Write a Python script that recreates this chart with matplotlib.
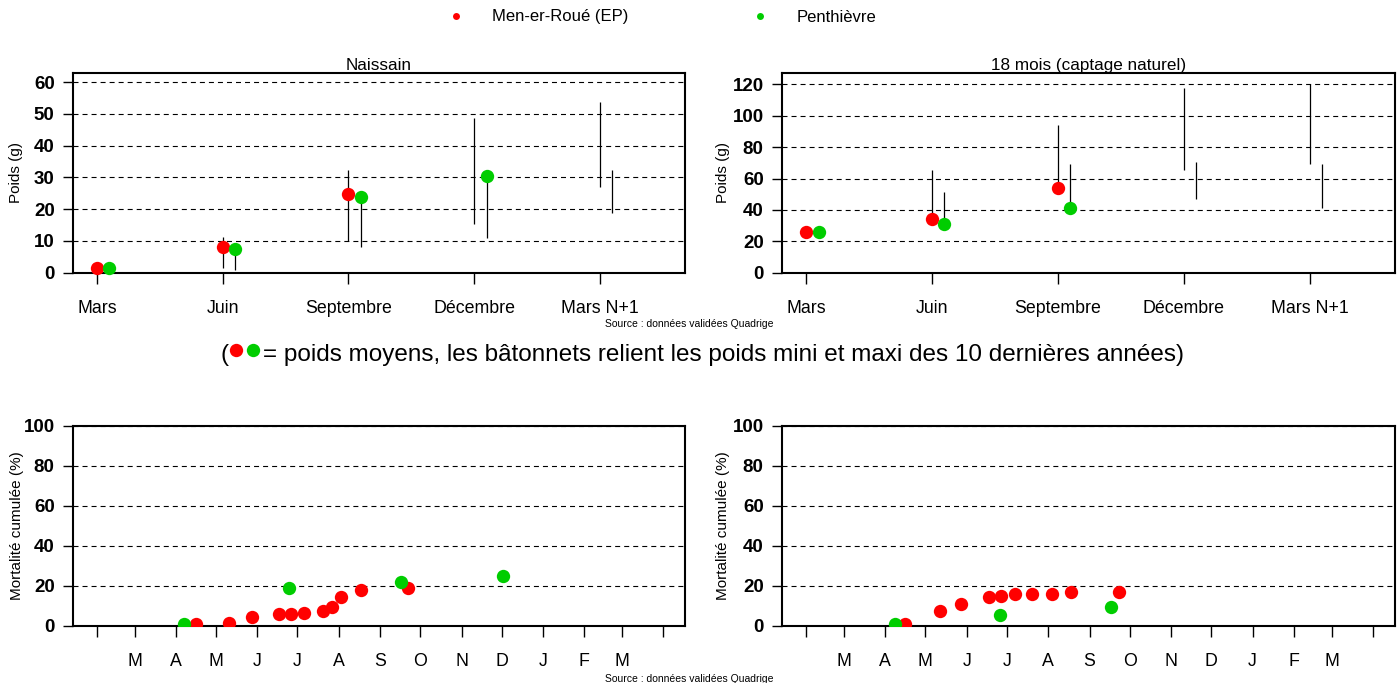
import numpy as np
import matplotlib
matplotlib.use("Agg")
import matplotlib.pyplot as plt
from matplotlib.lines import Line2D

plt.rcParams['font.family'] = ['Liberation Sans', 'DejaVu Sans']
plt.rcParams['lines.scale_dashes'] = False

# ---------------- data ----------------
categories = ["Mars", "Juin", "Septembre", "Décembre", "Mars N+1"]
nan = np.nan

# Naissain - weights (g)
nais_mer_mean = [1.5, 8.2, 24.8, nan, nan]
nais_mer_min = [0.8, 1.6, 10.0, 15.2, 26.9]
nais_mer_max = [2.2, 11.3, 32.4, 48.8, 53.9]
nais_pen_mean = [1.4, 7.6, 23.8, 30.4, nan]
nais_pen_min = [0.9, 0.8, 8.2, 11.0, 18.7]
nais_pen_max = [2.0, 8.8, 25.0, 31.0, 32.2]

# 18 mois - weights (g)
m18_mer_mean = [25.7, 34.0, 54.2, nan, nan]
m18_mer_min = [24.5, 31.0, 51.0, 65.4, 69.0]
m18_mer_max = [27.0, 65.4, 94.1, 117.9, 120.0]
m18_pen_mean = [25.7, 31.0, 41.2, nan, nan]
m18_pen_min = [24.5, 28.5, 39.0, 46.7, 41.0]
m18_pen_max = [27.0, 51.2, 69.0, 70.5, 69.0]

# cumulative mortality (%), x = day of year
month_start_days = [32, 60, 91, 121, 152, 182, 213, 244, 274, 305, 335, 366, 397, 425, 456]
month_labels = ["", "M", "A", "M", "J", "J", "A", "S", "O", "N", "D", "J", "F", "M", ""]

mort_nais_mer_day = [106, 131, 148, 168, 177, 187, 201, 208, 215, 230, 265]
mort_nais_mer_val = [0.7, 1.2, 4.5, 5.7, 5.7, 6.3, 7.5, 9.3, 14.3, 18.0, 18.7]
mort_nais_pen_day = [97, 176, 260, 336]
mort_nais_pen_val = [0.7, 18.7, 21.7, 25.0]

mort_m18_mer_day = [106, 132, 148, 169, 178, 188, 201, 216, 230, 266]
mort_m18_mer_val = [0.7, 7.5, 10.8, 14.5, 14.8, 16.0, 16.0, 16.0, 16.8, 16.7]
mort_m18_pen_day = [98, 177, 260]
mort_m18_pen_val = [0.7, 5.2, 9.2]

series_names = ["Men-er-Roué (EP)", "Penthièvre"]

# ---------------- style ----------------
RED = '#FF0000'
GREEN = '#00CD00'
W, H = 1398, 683
MS = 9.6
DASH = (3.6, 2.9)

fig = plt.figure(figsize=(W / 100, H / 100), dpi=100)


def box(l, t, r, b):
    return [l / W, 1 - b / H, (r - l) / W, (b - t) / H]


def style_axes(ax, yticks, ylabel, ylab_x):
    for s in ax.spines.values():
        s.set_linewidth(1.5)
    for y in yticks:
        ax.axhline(y, color='black', lw=0.8, dashes=DASH, zorder=1)
    ax.set_yticks(yticks)
    ax.set_yticklabels([str(v) for v in yticks], fontweight='bold', fontsize=13.5)
    ax.tick_params(axis='y', length=7.2, width=1.0, pad=6, direction='out')
    ax.tick_params(axis='x', length=8, width=1.0, pad=11.5, labelsize=12.8, direction='out')
    ax.text(ylab_x, 0.5, ylabel, transform=ax.transAxes, rotation=90,
            ha='center', va='center', fontsize=11)


def weight_panel(ax, title, ylim, yticks, mmean, mmin, mmax, pmean, pmin, pmax, ylab_x):
    x = np.arange(len(categories))
    off = 0.1
    ax.vlines(x, mmin, mmax, color='black', lw=0.9, zorder=2)
    ax.vlines(x + off, pmin, pmax, color='black', lw=0.9, zorder=2)
    ax.plot(x, mmean, 'o', ls='none', color=RED, ms=MS, mew=0, zorder=3, clip_on=False)
    ax.plot(x + off, pmean, 'o', ls='none', color=GREEN, ms=MS, mew=0, zorder=4, clip_on=False)
    ax.set_xlim(-0.19, 4.677)
    ax.set_ylim(*ylim)
    ax.set_xticks(x)
    ax.set_xticklabels(categories)
    style_axes(ax, yticks, "Poids (g)", ylab_x)
    ax.set_title(title, fontsize=12.3, pad=2)


def mort_panel(ax, mday, mval, pday, pval, ylab_x):
    ax.plot(mday, mval, 'o', ls='none', color=RED, ms=MS, mew=0, zorder=3)
    ax.plot(pday, pval, 'o', ls='none', color=GREEN, ms=MS, mew=0, zorder=4)
    ax.set_xlim(13.8, 472.5)
    ax.set_ylim(0, 100)
    ax.set_xticks(month_start_days)
    ax.set_xticklabels(month_labels)
    style_axes(ax, [0, 20, 40, 60, 80, 100], "Mortalité cumulée (%)", ylab_x)


ax_tl = fig.add_axes(box(73, 72.7, 685, 272.7))
ax_tr = fig.add_axes(box(782, 72.7, 1395, 272.7))
ax_bl = fig.add_axes(box(73, 425.7, 685, 625.7))
ax_br = fig.add_axes(box(782, 425.7, 1395, 625.7))

weight_panel(ax_tl, "Naissain", (0, 63), [0, 10, 20, 30, 40, 50, 60],
             nais_mer_mean, nais_mer_min, nais_mer_max,
             nais_pen_mean, nais_pen_min, nais_pen_max, -0.0931)
weight_panel(ax_tr, "18 mois (captage naturel)", (0, 127.4), [0, 20, 40, 60, 80, 100, 120],
             m18_mer_mean, m18_mer_min, m18_mer_max,
             m18_pen_mean, m18_pen_min, m18_pen_max, -0.0962)
mort_panel(ax_bl, mort_nais_mer_day, mort_nais_mer_val,
           mort_nais_pen_day, mort_nais_pen_val, -0.0915)
mort_panel(ax_br, mort_m18_mer_day, mort_m18_mer_val,
           mort_m18_pen_day, mort_m18_pen_val, -0.0962)

# legend
handles = [Line2D([], [], ls='none', marker='o', color=RED, ms=5, mew=0),
           Line2D([], [], ls='none', marker='o', color=GREEN, ms=5, mew=0)]
fig.legend(handles, series_names, loc='center', bbox_to_anchor=(658 / W, 1 - 17 / H),
           ncol=2, frameon=False, fontsize=12, handlelength=2.0, handletextpad=1.16,
           columnspacing=6.9, borderpad=0)

# source notes
fig.text(689 / W, 1 - 324 / H, "Source : données validées Quadrige", fontsize=7.5,
         ha='center', va='center')
fig.text(689 / W, 1 - 678.5 / H, "Source : données validées Quadrige", fontsize=7.5,
         ha='center', va='center')

# explanatory line with coloured dots
base_y = 1 - 361 / H
fig.text(220 / W, base_y, "(", fontsize=17.5, ha='left', va='baseline')
fig.add_artist(Line2D([236 / W], [1 - 350 / H], transform=fig.transFigure, ls='none',
                      marker='o', color=RED, ms=MS, mew=0))
fig.add_artist(Line2D([253.3 / W], [1 - 350 / H], transform=fig.transFigure, ls='none',
                      marker='o', color=GREEN, ms=MS, mew=0))
fig.text(263.3 / W, base_y,
         "= poids moyens, les bâtonnets relient les poids mini et maxi des 10 dernières années)",
         fontsize=17.5, ha='left', va='baseline')

fig.savefig("out.png", dpi=100)
